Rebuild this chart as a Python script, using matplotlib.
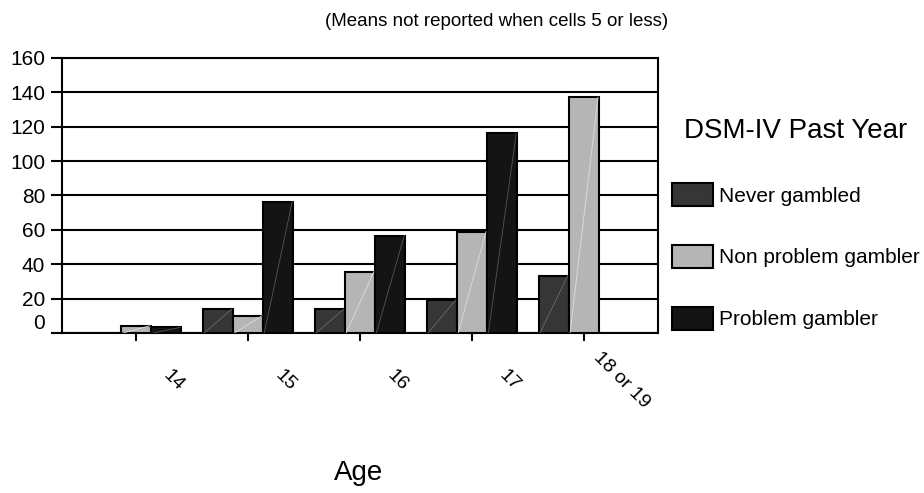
import numpy as np
import matplotlib
matplotlib.use("Agg")
import matplotlib.pyplot as plt
import matplotlib.transforms as mtransforms

plt.rcParams['font.family'] = ['Liberation Sans', 'DejaVu Sans']

ages = ['14', '15', '16', '17', '18 or 19']
series = ['Never gambled', 'Non problem gambler', 'Problem gambler']
# means per age group; None = not reported (cells 5 or less)
never_gambled = [None, 14, 14, 19.5, 33.5]
non_problem = [4.4, 10.2, 35.8, 59, 137]
problem = [3.5, 76.5, 56.7, 116, None]

colors = ['#363636', '#b5b5b5', '#141414']
stripe = ['#6a6a6a', '#dedede', '#555555']

fig = plt.figure(figsize=(9.24, 4.93), dpi=100)
ax = fig.add_axes([0.0671, 0.3239, 0.6450, 0.5591])

x = np.arange(len(ages))
w = 0.27
handles = []
for i, vals in enumerate([never_gambled, non_problem, problem]):
    pos = [x[j] + (i - 1) * w for j, v in enumerate(vals) if v is not None]
    hts = [v for v in vals if v is not None]
    bars = ax.bar(pos, hts, width=w, color=colors[i], edgecolor='black',
                  linewidth=1.5, zorder=3, label=series[i])
    handles.append(bars)
    # faint diagonal streak across each bar
    for b in bars:
        x0, h = b.get_x(), b.get_height()
        ax.plot([x0 + 0.01, x0 + b.get_width() - 0.01], [0, h],
                color=stripe[i], lw=0.6, zorder=4)

ax.set_xlim(-0.66, 4.66)
ax.set_ylim(0, 160)
ax.set_yticks(range(0, 161, 20))
ax.yaxis.grid(True, color='black', lw=1.5, zorder=0)
for s in ax.spines.values():
    s.set_linewidth(1.5)
ax.tick_params(axis='y', length=8, width=1.5, labelsize=15, pad=4)
ax.tick_params(axis='x', length=6, width=1.5)

ax.set_xticks(x)
ax.set_xticklabels(ages, rotation=-45, fontsize=14, ha='center', va='center',
                   rotation_mode='anchor')
shift = mtransforms.ScaledTranslation(37 / 100, -34 / 100, fig.dpi_scale_trans)
for lab in ax.get_xticklabels():
    lab.set_transform(lab.get_transform() + shift)

# the zero label sits a little above the baseline
zero = ax.get_yticklabels()[0]
zero.set_transform(zero.get_transform() +
                   mtransforms.ScaledTranslation(0, 12 / 100, fig.dpi_scale_trans))

fig.text(0.537, 1 - 22 / 493, '(Means not reported when cells 5 or less)',
         ha='center', va='center', fontsize=13.5)
fig.text(359 / 924, 1 - 473 / 493, 'Age', ha='center', va='center', fontsize=20)

leg = fig.legend(handles=handles, labels=series, loc='upper left',
                 bbox_to_anchor=(0.727, 0.76), frameon=False, fontsize=15,
                 title='DSM-IV Past Year', title_fontsize=20,
                 handlelength=2.0, handleheight=1.35, handletextpad=0.25,
                 labelspacing=1.85, borderpad=0, borderaxespad=0)

fig.savefig('out.png', dpi=100)
